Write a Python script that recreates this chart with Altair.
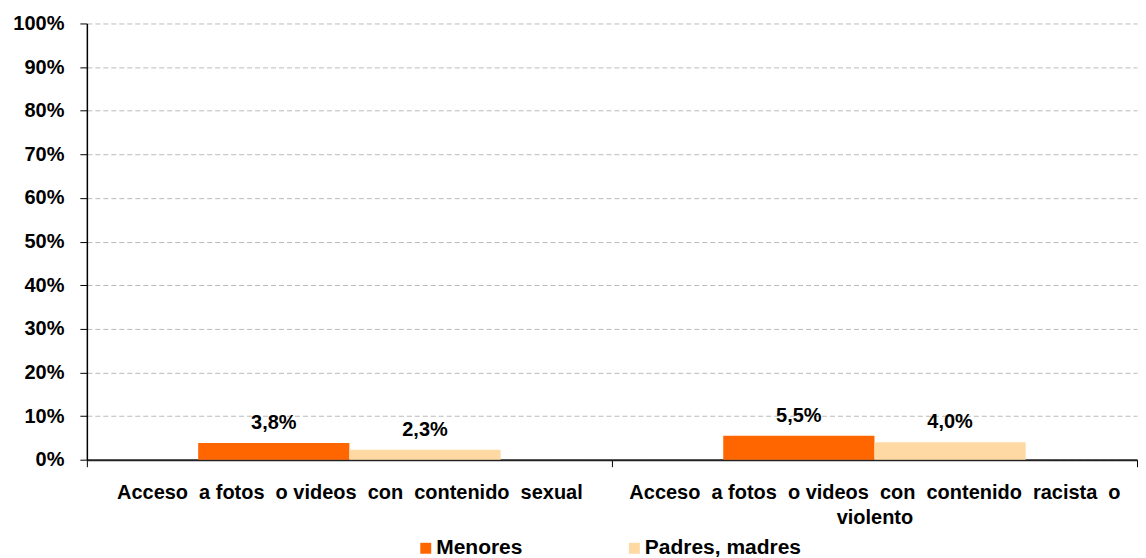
import altair as alt
import pandas as pd

categories = [
    "Acceso a fotos o videos con contenido sexual",
    "Acceso a fotos o videos con contenido racista o violento",
]
NB = "\u00a0 "  # wider, justified-looking word gap as in the original
category_lines = [
    [f"Acceso{NB}a fotos{NB}o videos{NB}con{NB}contenido{NB}sexual"],
    [f"Acceso{NB}a fotos{NB}o videos{NB}con{NB}contenido{NB}racista{NB}o", "violento"],
]
series = ["Menores", "Padres, madres"]
menores = [3.8, 5.5]
padres = [2.3, 4.0]
colors = ["#FF6600", "#FFD9A3"]
y_ticks = list(range(0, 101, 10))

rows = []
for i, c in enumerate(categories):
    rows.append({"cat": c, "serie": series[0], "value": menores[i]})
    rows.append({"cat": c, "serie": series[1], "value": padres[i]})
df = pd.DataFrame(rows)

# label expression for wrapped x labels
expr_parts = []
for c, lines in zip(categories, category_lines):
    arr = "[" + ",".join("'" + l + "'" for l in lines) + "]"
    expr_parts.append(f"datum.value == '{c}' ? {arr}")
x_label_expr = " : ".join(expr_parts) + " : datum.value"

FONT = "Liberation Sans"

x_enc = alt.X(
    "cat:N",
    sort=categories,
    scale=alt.Scale(paddingInner=0, paddingOuter=0),
    axis=alt.Axis(
        title=None,
        labelExpr=x_label_expr,
        labelAngle=0,
        labelFont=FONT,
        labelFontWeight="bold",
        labelFontSize=20,
        labelColor="#000000",
        labelLimit=1000,
        labelPadding=16,
        labelLineHeight=25,
        labelBaseline="top",
        tickBand="extent",
        tickSize=7,
        tickColor="#000000",
        tickWidth=1,
        domainColor="#222222",
        domainWidth=2,
        grid=False,
    ),
)
xoff_enc = alt.XOffset(
    "serie:N",
    sort=series,
    scale=alt.Scale(paddingInner=0, paddingOuter=0.736),
)
y_enc = alt.Y(
    "value:Q",
    scale=alt.Scale(domain=[0, 100], nice=False),
    axis=alt.Axis(
        title=None,
        values=y_ticks,
        labelExpr="datum.value + '%'",
        labelFont=FONT,
        labelFontWeight="bold",
        labelFontSize=20,
        labelColor="#000000",
        labelPadding=16,
        tickSize=7,
        tickColor="#000000",
        domainColor="#000000",
        domainWidth=1.5,
        grid=True,
        gridColor="#BBBBBB",
        gridDash=[5, 3],
        gridWidth=1,
    ),
)

bars = alt.Chart(df).mark_bar().encode(
    x=x_enc,
    xOffset=xoff_enc,
    y=y_enc,
    color=alt.Color(
        "serie:N",
        sort=series,
        scale=alt.Scale(domain=series, range=colors),
        legend=alt.Legend(
            title=None,
            orient="none",
            legendX=329,
            legendY=515,
            direction="horizontal",
            symbolType="square",
            symbolSize=120,
            symbolStrokeWidth=0,
            labelFont=FONT,
            labelFontWeight="bold",
            labelFontSize=21,
            labelColor="#000000",
            labelOffset=0,
            columnPadding=101,
        ),
    ),
)

labels = alt.Chart(df).transform_calculate(
    label="replace(format(datum.value, '.1f'), '.', ',') + '%'"
).mark_text(
    font=FONT, fontWeight="bold", fontSize=20, color="#000000",
    baseline="middle", dy=-20,
).encode(
    x=alt.X("cat:N", sort=categories),
    xOffset=alt.XOffset("serie:N", sort=series),
    y=alt.Y("value:Q"),
    text="label:N",
)

chart = alt.layer(bars, labels).properties(
    width=1052,
    height=437,
    padding={"left": 4, "top": 5, "right": 0, "bottom": 0},
).configure_view(stroke=None)

chart.save("out.html", embed_options={"renderer": "svg", "actions": False})
